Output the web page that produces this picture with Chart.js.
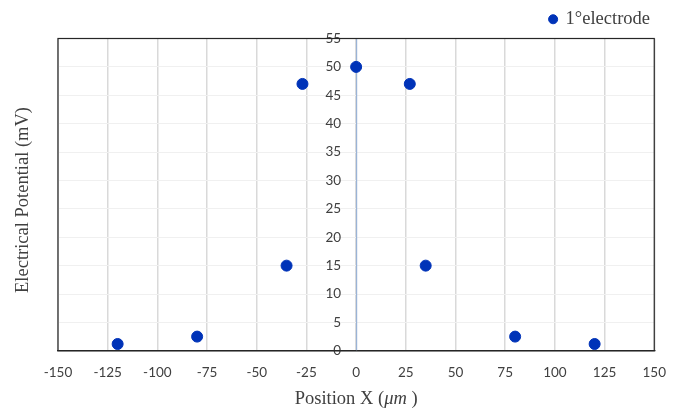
<!DOCTYPE html>
<html>
<head>
<meta charset="utf-8">
<script src="https://cdn.jsdelivr.net/npm/chart.js@4/dist/chart.umd.min.js"></script>
<style>
  html, body { margin: 0; padding: 0; background: #fff; }
  #wrap { width: 680px; height: 408px; }
</style>
</head>
<body>
<div id="wrap"><canvas id="chart"></canvas></div>
<script>
const positionX = [-120, -80, -35, -27, 0, 27, 35, 80, 120];
const potential = [1.2, 2.5, 15, 47, 50, 47, 15, 2.5, 1.2];
const seriesLabel = '1°electrode';

const titleFont = '18.5px "Liberation Serif"';
const titleFontItalic = 'italic 18.5px "Liberation Serif"';

// y axis sits at x = 0, chart.js puts its labels flush on the line, so nudge them left
const yLabelGap = {
    id: 'yLabelGap',
    beforeDraw(chart) {
        const s = chart.scales.y;
        const items = s.getLabelItems(chart.chartArea);
        if (items._shifted) return;
        items.forEach((it) => { it.options.translation[0] -= 15; });
        items._shifted = true;
    }
};

// frame + axis titles (x title has an italic unit)
const frameAndTitles = {
    id: 'frameAndTitles',
    beforeDatasetsDraw(chart) {
        const { ctx, chartArea: a } = chart;
        ctx.save();
        ctx.strokeStyle = '#262626';
        ctx.lineWidth = 1.2;
        ctx.strokeRect(a.left, a.top, a.right - a.left, a.bottom - a.top);
        ctx.restore();
    },
    afterDraw(chart) {
        const { ctx, chartArea: a } = chart;
        ctx.save();
        ctx.fillStyle = '#404040';
        ctx.textBaseline = 'middle';

        const part1 = 'Position X (';
        const part2 = 'μm';
        const part3 = ' )';
        ctx.font = titleFont;
        const w1 = ctx.measureText(part1).width;
        const w3 = ctx.measureText(part3).width;
        ctx.font = titleFontItalic;
        const w2 = ctx.measureText(part2).width;
        let x = (a.left + a.right) / 2 - (w1 + w2 + w3) / 2;
        const y = 399;
        ctx.textAlign = 'left';
        ctx.font = titleFont;
        ctx.fillText(part1, x, y);
        ctx.font = titleFontItalic;
        ctx.fillText(part2, x + w1, y);
        ctx.font = titleFont;
        ctx.fillText(part3, x + w1 + w2, y);

        ctx.translate(23, 200);
        ctx.rotate(-Math.PI / 2);
        ctx.textAlign = 'center';
        ctx.fillText('Electrical Potential (mV)', 0, 0);
        ctx.restore();
    }
};

const ctx = document.getElementById('chart').getContext('2d');
new Chart(ctx, {
    type: 'scatter',
    data: {
        datasets: [
            {
                label: seriesLabel,
                data: positionX.map((x, i) => ({ x: x, y: potential[i] })),
                backgroundColor: '#0033b8',
                borderColor: '#0033b8',
                pointRadius: 5.5,
                pointHoverRadius: 5.5,
            },
        ],
    },
    options: {
        responsive: true,
        maintainAspectRatio: false,
        animation: false,
        layout: {
            padding: { left: 58, right: 25, top: 5, bottom: 13 },
        },
        scales: {
            x: {
                type: 'linear',
                min: -150,
                max: 150,
                ticks: {
                    stepSize: 25,
                    padding: 14,
                    color: '#404040',
                    font: { family: 'Lato', size: 13.5 },
                },
                grid: {
                    color: '#d9d9d9',
                    lineWidth: 1.5,
                    drawTicks: false,
                },
                border: { color: '#262626', width: 1.2 },
            },
            y: {
                type: 'linear',
                position: { x: 0 },
                min: 0,
                max: 55,
                ticks: {
                    stepSize: 5,
                    color: '#404040',
                    font: { family: 'Lato', size: 13.5 },
                },
                grid: {
                    color: '#f0f0f0',
                    drawTicks: false,
                },
                border: { color: '#9ab3d6', width: 1.2 },
            },
        },
        plugins: {
            legend: {
                display: true,
                position: 'top',
                align: 'end',
                labels: {
                    usePointStyle: true,
                    pointStyle: 'circle',
                    boxWidth: 6.4,
                    boxHeight: 6.4,
                    color: '#404040',
                    padding: 5,
                    font: { family: 'Liberation Serif', size: 18.5 },
                },
            },
            tooltip: { enabled: false },
        },
    },
    plugins: [yLabelGap, frameAndTitles],
});
</script>
</body>
</html>
